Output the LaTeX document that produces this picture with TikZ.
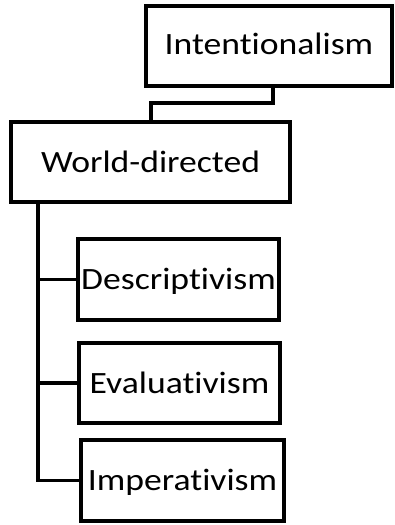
\documentclass[tikz,border=0pt]{standalone}
\usepackage{fontspec}
\setmainfont{Carlito}[Ligatures=NoCommon, FakeStretch=1.15]
\begin{document}
\begin{tikzpicture}[x=1pt,y=1pt,
  box/.style={draw=black, line width=3.5pt, rectangle, inner sep=0pt,
    text height=20pt, text depth=0pt,
    font=\fontsize{31}{38}\selectfont},
  conn/.style={draw=black, line width=3.5pt, line join=miter}]
  \useasboundingbox (0,0) rectangle (394,-525);
  % boxes
  \node[box, minimum width=246, minimum height=80] (int)   at (269,-46)    {\raisebox{2pt}{Intentionalism}};
  \node[box, minimum width=279, minimum height=80] (world) at (150.5,-162) {World-directed};
  \node[box, minimum width=201, minimum height=81] (desc)  at (178.5,-279.5) {Descriptivism};
  \node[box, minimum width=201, minimum height=80] (eval)  at (179.5,-383) {Evaluativism};
  \node[box, minimum width=203, minimum height=81] (imp)   at (182.5,-480.5) {Imperativism};
  % elbow from the root down to the world-directed box
  \coordinate (j1) at (273,-103);
  \coordinate (j2) at (151,-103);
  \draw[conn] (int.south -| j1) -- (j1) -- (j2) -- (world.north -| j2);
  % trunk with its three branches
  \coordinate (t) at (38,0);
  \draw[conn] (world.south -| t) |- (imp.west);
  \draw[conn] (desc.west -| t) -- (desc.west);
  \draw[conn] (eval.west -| t) -- (eval.west);
\end{tikzpicture}
\end{document}
